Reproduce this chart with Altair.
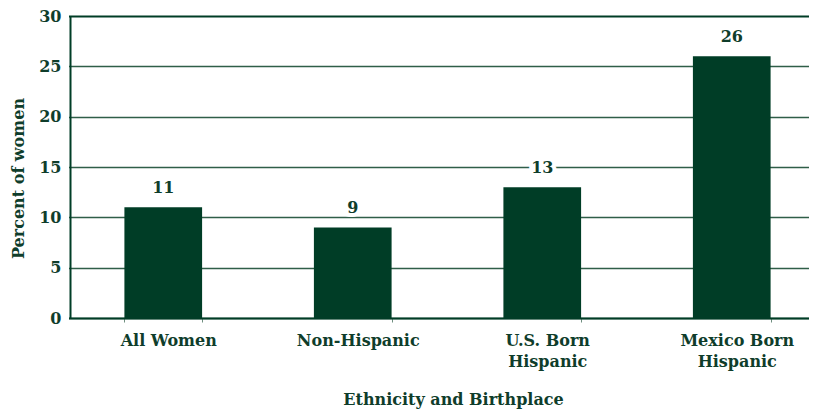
import altair as alt
import pandas as pd

categories = ["All Women", "Non-Hispanic", "U.S. Born|Hispanic", "Mexico Born|Hispanic"]
values = [11, 9, 13, 26]
y_ticks = [0, 5, 10, 15, 20, 25, 30]

df = pd.DataFrame({"group": categories, "pct": values})

GREEN = "#003d26"
TEXT = "#0f3d2b"
FONT = "DejaVu Serif"

x_enc = alt.X(
    "group:N",
    sort=categories,
    scale=alt.Scale(range=[-1.5, 756.5], paddingInner=0.59, paddingOuter=0.295),
    axis=alt.Axis(
        title="Ethnicity and Birthplace",
        labelAngle=0,
        labelExpr="split(datum.label, '|')",
        labelFont=FONT, labelFontWeight="bold", labelFontSize=16, labelColor=TEXT,
        labelPadding=10, labelLineHeight=21, labelOffset=5,
        titleFont=FONT, titleFontWeight="bold", titleFontSize=16, titleColor=TEXT,
        titlePadding=22, titleX=383,
        domainColor=GREEN, domainWidth=2,
        tickColor="#6f8f80", tickSize=4, tickWidth=1, tickBand="extent",
    ),
)

y_enc = alt.Y(
    "pct:Q",
    scale=alt.Scale(domain=[0, 30], nice=False),
    axis=alt.Axis(
        title="Percent of women",
        values=y_ticks,
        labelFont=FONT, labelFontWeight="bold", labelFontSize=16, labelColor=TEXT,
        labelPadding=9, ticks=False,
        titleFont=FONT, titleFontWeight="bold", titleFontSize=16, titleColor=TEXT,
        titlePadding=12, titleY=162,
        domainColor=GREEN, domainWidth=2,
        grid=True,
        gridColor={"condition": {"test": "datum.value == 30", "value": GREEN}, "value": "#2f5e48"},
        gridWidth={"condition": {"test": "datum.value == 30", "value": 2}, "value": 1.3},
    ),
)

bars = alt.Chart(df).mark_bar(color=GREEN).encode(x=x_enc, y=y_enc)

halo = alt.Chart(df).mark_text(
    font=FONT, fontWeight="bold", fontSize=16, dy=-19, baseline="middle",
    color="white", stroke="white", strokeWidth=8,
).encode(x=alt.X("group:N", sort=categories), y="pct:Q", text="pct:Q")

labels = alt.Chart(df).mark_text(
    font=FONT, fontWeight="bold", fontSize=16, dy=-19, baseline="middle", color=TEXT,
).encode(x=alt.X("group:N", sort=categories), y="pct:Q", text="pct:Q")

chart = (
    alt.layer(bars, halo, labels)
    .properties(
        width=739, height=302,
        autosize=alt.AutoSizeParams(type="none"),
        padding={"left": 62, "top": 8, "right": 0, "bottom": 100},
    )
    .configure_view(stroke=None)
    .configure(background="white")
)

chart.save("out.html", embed_options={"renderer": "svg", "actions": False})
